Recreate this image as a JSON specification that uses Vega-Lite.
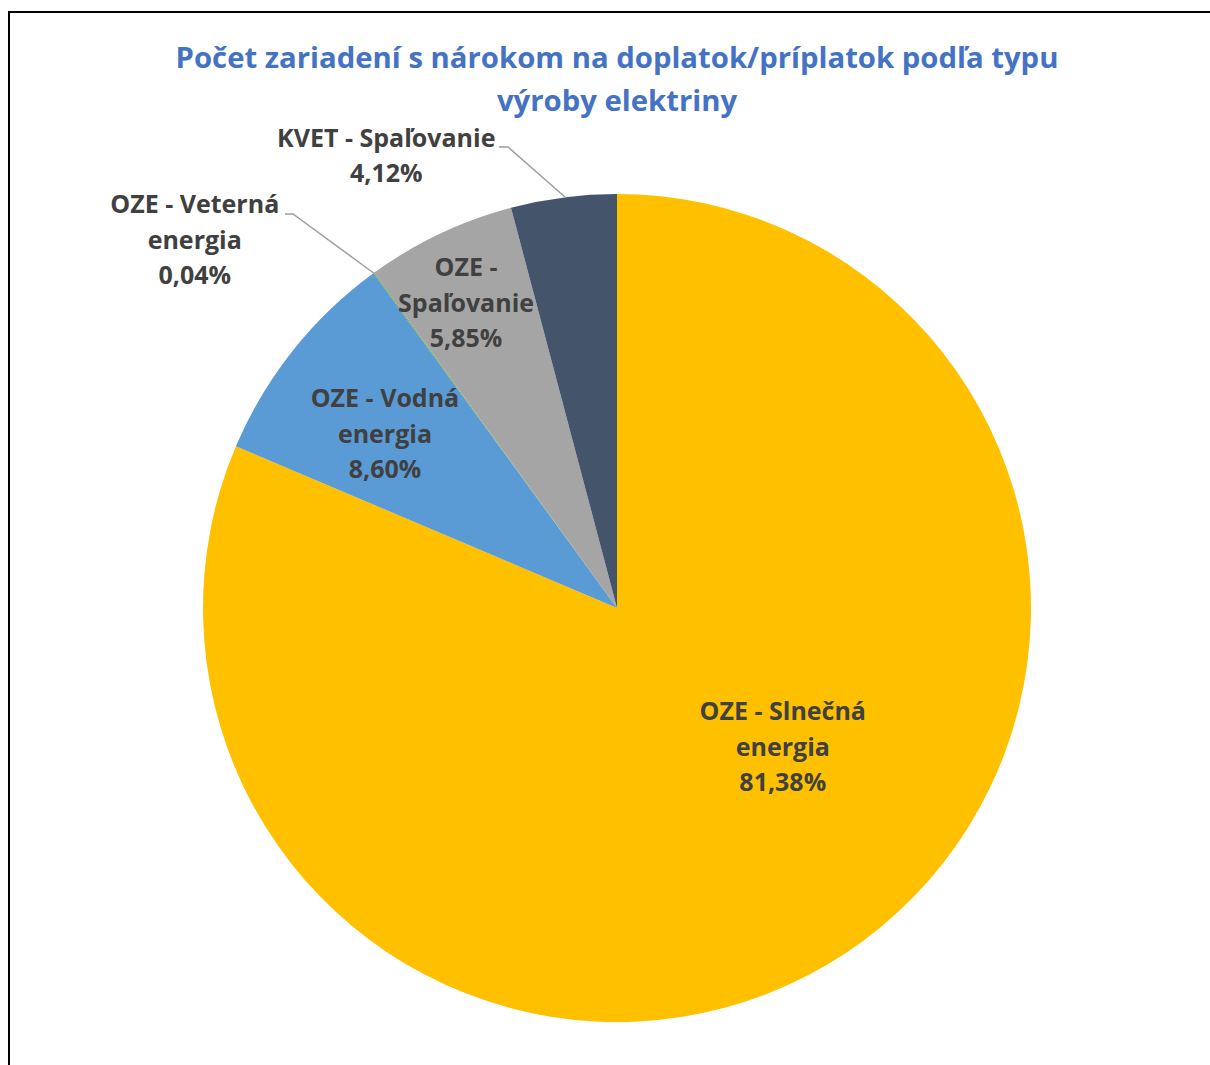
{
  "$schema": "https://vega.github.io/schema/vega-lite/v6.json",
  "width": 1216,
  "height": 1192,
  "autosize": {"type": "none"},
  "padding": {"left": 9, "top": 12, "right": 0, "bottom": 0},
  "background": "white",
  "config": {"view": {"stroke": "black", "strokeWidth": 2}},
  "title": {
    "text": ["Počet zariadení s nárokom na doplatok/príplatok podľa typu", "výroby elektriny"],
    "font": "Open Sans",
    "fontSize": 29.3,
    "fontWeight": "bold",
    "color": "#4472C4",
    "anchor": "middle",
    "frame": "group",
    "offset": -128,
    "baseline": "alphabetic",
    "lineHeight": 43
  },
  "datasets": {
    "slices": [
      {"typ": "OZE - Slnečná energia", "idx": 1, "value": 81.38, "label": "OZE - Slnečná\nenergia\n81,38%"},
      {"typ": "OZE - Vodná energia", "idx": 2, "value": 8.60, "label": "OZE - Vodná\nenergia\n8,60%"},
      {"typ": "OZE - Veterná energia", "idx": 3, "value": 0.04, "label": "OZE - Veterná\nenergia\n0,04%"},
      {"typ": "OZE - Spaľovanie", "idx": 4, "value": 5.85, "label": "OZE -\nSpaľovanie\n5,85%"},
      {"typ": "KVET - Spaľovanie", "idx": 5, "value": 4.12, "label": "KVET - Spaľovanie\n4,12%"}
    ],
    "leaders": [
      {"typ": "KVET - Spaľovanie", "pt": 1, "px": -118, "py": 461},
      {"typ": "KVET - Spaľovanie", "pt": 2, "px": -109, "py": 461},
      {"typ": "KVET - Spaľovanie", "pt": 3, "px": -52, "py": 411},
      {"typ": "OZE - Veterná energia", "pt": 1, "px": -332, "py": 394},
      {"typ": "OZE - Veterná energia", "pt": 2, "px": -324, "py": 394},
      {"typ": "OZE - Veterná energia", "pt": 3, "px": -242, "py": 334}
    ]
  },
  "layer": [
    {
      "data": {"name": "slices"},
      "mark": {"type": "arc", "outerRadius": 414},
      "encoding": {
        "theta": {"field": "value", "type": "quantitative", "stack": true},
        "order": {"field": "idx", "type": "quantitative"},
        "color": {
          "field": "typ",
          "type": "nominal",
          "scale": {
            "domain": ["OZE - Slnečná energia", "OZE - Vodná energia", "OZE - Veterná energia", "OZE - Spaľovanie", "KVET - Spaľovanie"],
            "range": ["#FFC000", "#5B9BD5", "#70AD47", "#A5A5A5", "#44546A"]
          },
          "legend": null
        }
      }
    },
    {
      "data": {"name": "slices"},
      "mark": {"type": "text", "radius": 217, "dx": 46, "dy": -76.5, "font": "Open Sans", "fontSize": 25, "fontWeight": "bold", "color": "#404040", "lineBreak": "\n", "lineHeight": 35.5, "align": "center", "baseline": "middle"},
      "encoding": {
        "theta": {"field": "value", "type": "quantitative", "stack": true},
        "order": {"field": "idx", "type": "quantitative"},
        "detail": {"field": "typ", "type": "nominal"},
        "text": {"condition": {"test": "datum.typ === 'OZE - Slnečná energia'", "field": "label"}, "value": ""}
      }
    },
    {
      "data": {"name": "slices"},
      "mark": {"type": "text", "radius": 290, "dx": -5, "dy": -28.5, "font": "Open Sans", "fontSize": 25, "fontWeight": "bold", "color": "#404040", "lineBreak": "\n", "lineHeight": 35.5, "align": "center", "baseline": "middle"},
      "encoding": {
        "theta": {"field": "value", "type": "quantitative", "stack": true},
        "order": {"field": "idx", "type": "quantitative"},
        "detail": {"field": "typ", "type": "nominal"},
        "text": {"condition": {"test": "datum.typ === 'OZE - Vodná energia'", "field": "label"}, "value": ""}
      }
    },
    {
      "data": {"name": "slices"},
      "mark": {"type": "text", "radius": 455, "dx": -155, "dy": -34.5, "font": "Open Sans", "fontSize": 25, "fontWeight": "bold", "color": "#404040", "lineBreak": "\n", "lineHeight": 35.5, "align": "center", "baseline": "middle"},
      "encoding": {
        "theta": {"field": "value", "type": "quantitative", "stack": true},
        "order": {"field": "idx", "type": "quantitative"},
        "detail": {"field": "typ", "type": "nominal"},
        "text": {"condition": {"test": "datum.typ === 'OZE - Veterná energia'", "field": "label"}, "value": ""}
      }
    },
    {
      "data": {"name": "slices"},
      "mark": {"type": "text", "radius": 343, "dx": -4, "dy": -30, "font": "Open Sans", "fontSize": 25, "fontWeight": "bold", "color": "#404040", "lineBreak": "\n", "lineHeight": 35.5, "align": "center", "baseline": "middle"},
      "encoding": {
        "theta": {"field": "value", "type": "quantitative", "stack": true},
        "order": {"field": "idx", "type": "quantitative"},
        "detail": {"field": "typ", "type": "nominal"},
        "text": {"condition": {"test": "datum.typ === 'OZE - Spaľovanie'", "field": "label"}, "value": ""}
      }
    },
    {
      "data": {"name": "slices"},
      "mark": {"type": "text", "radius": 455, "dx": -172, "dy": -18, "font": "Open Sans", "fontSize": 25, "fontWeight": "bold", "color": "#404040", "lineBreak": "\n", "lineHeight": 35.5, "align": "center", "baseline": "middle"},
      "encoding": {
        "theta": {"field": "value", "type": "quantitative", "stack": true},
        "order": {"field": "idx", "type": "quantitative"},
        "detail": {"field": "typ", "type": "nominal"},
        "text": {"condition": {"test": "datum.typ === 'KVET - Spaľovanie'", "field": "label"}, "value": ""}
      }
    },
    {
      "data": {"name": "leaders"},
      "mark": {"type": "line", "color": "#9E9E9E", "strokeWidth": 1.5},
      "encoding": {
        "x": {"field": "px", "type": "quantitative", "scale": {"domain": [-608, 608], "nice": false, "zero": false}, "axis": null},
        "y": {"field": "py", "type": "quantitative", "scale": {"domain": [-596, 596], "nice": false, "zero": false}, "axis": null},
        "detail": {"field": "typ", "type": "nominal"},
        "order": {"field": "pt", "type": "quantitative"}
      }
    }
  ]
}
